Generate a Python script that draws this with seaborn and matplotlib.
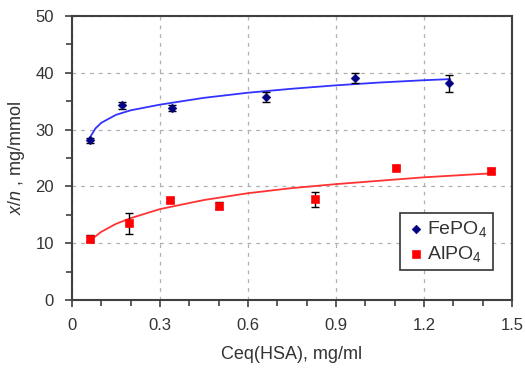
import matplotlib
matplotlib.use("Agg")
import matplotlib.pyplot as plt
import seaborn as sns
import pandas as pd
from matplotlib.ticker import MultipleLocator

sns.set_theme(style="white")
plt.rcParams['font.family'] = ['Liberation Sans', 'DejaVu Sans']
plt.rcParams['mathtext.fontset'] = 'custom'
plt.rcParams['mathtext.rm'] = 'Liberation Sans'
plt.rcParams['mathtext.it'] = 'Liberation Sans:italic'

# FePO4 data
fe_x = [0.06, 0.17, 0.34, 0.66, 0.965, 1.285]
fe_y = [28.1, 34.3, 33.8, 35.8, 39.1, 38.2]
fe_err = [0.5, 0.6, 0.6, 0.9, 0.9, 1.5]
# FePO4 fitted curve
fe_fit_x = [0.06, 0.08, 0.10, 0.15, 0.20, 0.30, 0.45, 0.60, 0.75, 0.90, 1.05, 1.20, 1.29]
fe_fit_y = [28.5, 30.2, 31.2, 32.6, 33.4, 34.4, 35.6, 36.5, 37.2, 37.8, 38.3, 38.7, 38.9]

# AlPO4 data
al_x = [0.06, 0.195, 0.335, 0.50, 0.83, 1.105, 1.43]
al_y = [10.8, 13.5, 17.6, 16.6, 17.7, 23.3, 22.8]
al_err = [0.6, 1.8, 0.4, 0.6, 1.4, 0.3, 0.4]
# AlPO4 fitted curve
al_fit_x = [0.06, 0.10, 0.15, 0.20, 0.30, 0.45, 0.60, 0.75, 0.90, 1.05, 1.20, 1.43]
al_fit_y = [10.4, 12.0, 13.4, 14.4, 16.0, 17.6, 18.8, 19.7, 20.4, 21.0, 21.6, 22.3]

fe = pd.DataFrame({"x": fe_x, "y": fe_y})
al = pd.DataFrame({"x": al_x, "y": al_y})
fe_fit = pd.DataFrame({"x": fe_fit_x, "y": fe_fit_y})
al_fit = pd.DataFrame({"x": al_fit_x, "y": al_fit_y})

fig = plt.figure(figsize=(5.25, 3.74), dpi=100)
ax = fig.add_axes([0.137, 0.198, 0.838, 0.759])

ax.grid(True, which='major', linestyle=(0, (3, 4)), color='#b0b0b0', linewidth=0.9)

sns.lineplot(data=fe_fit, x="x", y="y", ax=ax, color='#3333ff', linewidth=1.3, legend=False)
sns.lineplot(data=al_fit, x="x", y="y", ax=ax, color='#ff3333', linewidth=1.3, legend=False)

ax.errorbar(fe_x, fe_y, yerr=fe_err, fmt='none', ecolor='black', elinewidth=1, capsize=3, capthick=1, zorder=3)
ax.errorbar(al_x, al_y, yerr=al_err, fmt='none', ecolor='black', elinewidth=1, capsize=3, capthick=1, zorder=3)

sns.scatterplot(data=fe, x="x", y="y", ax=ax, marker='D', color='#000080', s=20,
                edgecolor='#000080', label='FePO$_4$', zorder=4)
sns.scatterplot(data=al, x="x", y="y", ax=ax, marker='s', color='#ff0000', s=32,
                edgecolor='#ff0000', label='AlPO$_4$', zorder=4)

ax.set_xlim(0, 1.5)
ax.set_ylim(0, 50)
ax.xaxis.set_major_locator(MultipleLocator(0.3))
ax.xaxis.set_minor_locator(MultipleLocator(0.1))
ax.yaxis.set_major_locator(MultipleLocator(10))
ax.yaxis.set_minor_locator(MultipleLocator(5))
ax.set_xticks([0, 0.3, 0.6, 0.9, 1.2, 1.5])
ax.set_xticklabels(['0', '0.3', '0.6', '0.9', '1.2', '1.5'])

ax.tick_params(axis='both', which='both', direction='out', color='#404040', labelsize=12, labelcolor='#333333')
ax.tick_params(axis='both', which='major', length=5, width=1.2, pad=8)
ax.tick_params(axis='both', which='minor', length=4, width=1.2)
ax.tick_params(axis='x', which='both', bottom=True)
ax.tick_params(axis='y', which='both', left=True)

for sp in ax.spines.values():
    sp.set_color('#404040')
    sp.set_linewidth(1.5)

ax.set_xlabel('Ceq(HSA), mg/ml', fontsize=13, color='#333333', labelpad=9)
ax.set_ylabel('$\\it{x/n}$ , mg/mmol', fontsize=13, color='#333333', labelpad=6)

leg = ax.legend(loc='upper left', bbox_to_anchor=(0.745, 0.305), fontsize=14, frameon=True,
                fancybox=False, edgecolor='#333333', handletextpad=0.0, handlelength=1.1,
                borderpad=0.3, labelspacing=0.25, borderaxespad=0)
for t in leg.get_texts():
    t.set_color('#333333')
leg.get_frame().set_linewidth(1.2)
leg.get_frame().set_alpha(1)

fig.savefig('out.png', dpi=100)
